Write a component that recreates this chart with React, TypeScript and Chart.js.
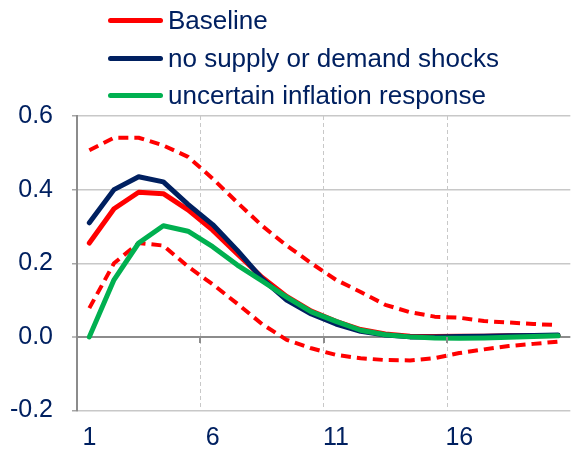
import React, { useEffect, useRef } from "react";
import { Chart, registerables } from "chart.js";

Chart.register(...registerables);

const categories = ["1","2","3","4","5","6","7","8","9","10","11","12","13","14","15","16","17","18","19","20"];
const baseline = [0.255, 0.348, 0.393, 0.389, 0.345, 0.29, 0.225, 0.162, 0.11, 0.07, 0.042, 0.02, 0.008, 0.002, 0.001, 0.002, 0.002, 0.003, 0.003, 0.004];
const noShocks = [0.31, 0.4, 0.435, 0.421, 0.36, 0.305, 0.235, 0.158, 0.1, 0.062, 0.035, 0.015, 0.005, 0.0, 0.0, 0.001, 0.002, 0.003, 0.004, 0.005];
const uncertain = [0.0, 0.155, 0.255, 0.302, 0.287, 0.245, 0.195, 0.152, 0.108, 0.068, 0.042, 0.018, 0.006, 0.0, -0.003, -0.004, -0.003, -0.001, 0.001, 0.003];
const upperBand = [0.507, 0.541, 0.541, 0.52, 0.489, 0.43, 0.365, 0.302, 0.248, 0.2, 0.155, 0.122, 0.087, 0.067, 0.055, 0.052, 0.043, 0.039, 0.035, 0.032];
const lowerBand = [0.078, 0.2, 0.255, 0.248, 0.191, 0.143, 0.09, 0.035, -0.008, -0.031, -0.049, -0.058, -0.063, -0.064, -0.058, -0.044, -0.034, -0.025, -0.019, -0.013];
const legendLabels = ["Baseline", "no supply or demand shocks", "uncertain inflation response"];
const legendColors = ["#ff0000", "#002060", "#00b050"];

const FONT = 'Arial, "Liberation Sans", sans-serif';
const TEXT = "#002060";

const zeroTicks = {
  id: "zeroTicks",
  afterDatasetsDraw(chart: any) {
    const { ctx } = chart;
    const x = chart.scales.x;
    const y = chart.scales.y;
    const y0 = y.getPixelForValue(0);
    ctx.save();
    ctx.strokeStyle = "#8c8c8c";
    ctx.lineWidth = 2;
    [-0.5, 4.5, 9.5, 14.5].forEach((b) => {
      const px = Math.round(x.getPixelForValue(b));
      ctx.beginPath();
      ctx.moveTo(px, y0);
      ctx.lineTo(px, y0 + 6);
      ctx.stroke();
    });
    ctx.restore();
  },
};

export default function App() {
  const ref = useRef<HTMLCanvasElement | null>(null);
  useEffect(() => {
    if (!ref.current) return;
    const solid = (label: string, data: number[], color: string) => ({
      label,
      data,
      borderColor: color,
      backgroundColor: color,
      borderWidth: 5,
      pointRadius: 0,
      tension: 0,
      borderCapStyle: "round",
      borderJoinStyle: "round",
      fill: false,
    });
    const dashed = (label: string, data: number[]) => ({
      label,
      data,
      borderColor: "#ff0000",
      backgroundColor: "#ff0000",
      borderWidth: 4,
      borderDash: [10, 6],
      pointRadius: 0,
      tension: 0,
      borderCapStyle: "butt",
      borderJoinStyle: "round",
      fill: false,
    });
    const chart = new Chart(ref.current, {
      type: "line",
      data: {
        labels: categories,
        datasets: [
          solid(legendLabels[2], uncertain, legendColors[2]),
          solid(legendLabels[1], noShocks, legendColors[1]),
          solid(legendLabels[0], baseline, legendColors[0]),
          dashed("upper", upperBand),
          dashed("lower", lowerBand),
        ] as any,
      },
      options: {
        animation: false,
        responsive: false,
        layout: { padding: { top: 116, left: 0, right: 0, bottom: 0 } },
        plugins: { legend: { display: false }, tooltip: { enabled: false } },
        scales: {
          x: {
            type: "category",
            offset: true,
            afterFit: (s: any) => { s.height = 41.5; },
            grid: {
              offset: true,
              drawTicks: false,
              lineWidth: 1,
              color: (c: any) => (c.index > 0 && c.index < 20 && c.index % 5 === 0 ? "#c8c8c8" : "rgba(0,0,0,0)"),
            },
            border: { display: false, dash: [4, 3] },
            ticks: {
              autoSkip: false,
              maxRotation: 0,
              padding: 13,
              color: TEXT,
              font: { family: FONT, size: 25 },
              callback: (_v: any, i: number) => (i % 5 === 0 ? categories[i] : ""),
            },
          },
          y: {
            min: -0.2,
            max: 0.6,
            afterFit: (s: any) => { s.width = 77; },
            grid: {
              color: (c: any) => (c.tick && Math.abs(c.tick.value) < 1e-9 ? "#8c8c8c" : "#c8c8c8"),
              lineWidth: (c: any) => (c.tick && Math.abs(c.tick.value) < 1e-9 ? 2 : 1.5),
              tickLength: 5,
              tickColor: "#a6a6a6",
              tickWidth: 1.5,
            },
            border: { display: true, color: "#8c8c8c", width: 2 },
            ticks: {
              stepSize: 0.2,
              padding: 19,
              color: TEXT,
              font: { family: FONT, size: 25 },
              callback: (v: any) => Number(v).toFixed(1),
            },
          },
        },
      },
      plugins: [zeroTicks],
    } as any);
    return () => chart.destroy();
  }, []);

  return (
    <div style={{ position: "absolute", left: 0, top: 0, width: 571, height: 452, background: "#fff" }}>
      <canvas ref={ref} width={571} height={452} style={{ position: "absolute", left: 0, top: 0 }} />
      {legendLabels.map((lab, i) => (
        <div
          key={lab}
          style={{
            position: "absolute",
            left: 108,
            top: 2 + i * 37.5,
            height: 37,
            display: "flex",
            alignItems: "center",
            whiteSpace: "nowrap",
            fontFamily: FONT,
            fontSize: 26,
            color: TEXT,
          }}
        >
          <span style={{ display: "inline-block", width: 55, height: 5, borderRadius: 3, background: legendColors[i], marginRight: 5 }} />
          <span>{lab}</span>
        </div>
      ))}
    </div>
  );
}
